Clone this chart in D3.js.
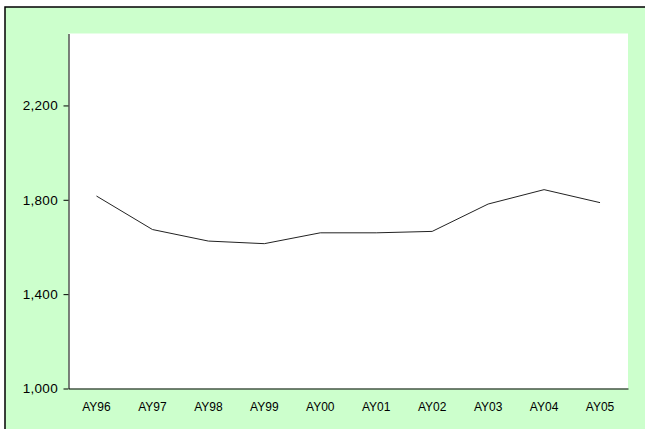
<!DOCTYPE html>
<html>
<head>
<meta charset="utf-8">
<script src="https://cdn.jsdelivr.net/npm/d3@7"></script>
<style>
html,body{margin:0;padding:0;background:#fff;}
svg{display:block;}
</style>
</head>
<body>
<script>
const categories = ["AY96","AY97","AY98","AY99","AY00","AY01","AY02","AY03","AY04","AY05"];
const values = [1816, 1674, 1625, 1614, 1660, 1660, 1666, 1782, 1843, 1788];
const yTicks = [1000, 1400, 1800, 2200];
const yDomain = [1000, 2505];

const W = 645, H = 429;
const plot = {left: 68.5, top: 33.5, right: 628, bottom: 388.5};

const svg = d3.select("body").append("svg").attr("width", W).attr("height", H);

// outer frame (green)
svg.append("rect").attr("x", 5).attr("y", 7).attr("width", W + 10).attr("height", H + 10)
  .attr("fill", "#ccffcc").attr("stroke", "#000").attr("stroke-width", 1.5);

// plot area
svg.append("rect").attr("x", plot.left).attr("y", plot.top)
  .attr("width", plot.right - plot.left).attr("height", plot.bottom - plot.top)
  .attr("fill", "#fff");

const x = d3.scaleBand().domain(categories).range([plot.left, plot.right]);
const y = d3.scaleLinear().domain(yDomain).range([plot.bottom, plot.top]);

// y axis
const yAxis = svg.append("g").attr("transform", `translate(${plot.left},0)`)
  .call(d3.axisLeft(y).tickValues(yTicks).tickSize(5).tickPadding(5.5).tickFormat(d3.format(",")).tickSizeOuter(0));
yAxis.select(".domain").attr("stroke", "#000");
yAxis.selectAll(".tick line").attr("stroke", "#000");
yAxis.selectAll(".tick text").attr("font-family", "Liberation Sans, Arial, sans-serif")
  .attr("font-size", 13.5).attr("letter-spacing", 0.3).attr("fill", "#000");

// x axis
const xAxis = svg.append("g").attr("transform", `translate(0,${plot.bottom})`)
  .call(d3.axisBottom(x).tickSize(0).tickPadding(14).tickSizeOuter(0));
xAxis.select(".domain").attr("stroke", "#000");
xAxis.selectAll(".tick text").attr("font-family", "Liberation Sans, Arial, sans-serif")
  .attr("font-size", 12).attr("fill", "#000");

// line
const line = d3.line().x((d, i) => x(categories[i]) + x.bandwidth() / 2).y(d => y(d));
svg.append("path").datum(values).attr("d", line)
  .attr("fill", "none").attr("stroke", "#222").attr("stroke-width", 1);
</script>
</body>
</html>
